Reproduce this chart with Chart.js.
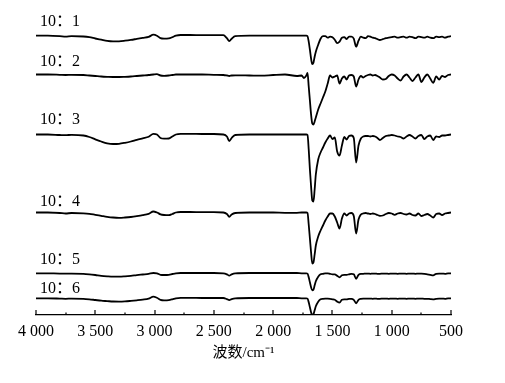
<!DOCTYPE html>
<html><head><meta charset="utf-8">
<script src="https://cdn.jsdelivr.net/npm/chart.js@4/dist/chart.umd.min.js"></script>
<style>html,body{margin:0;padding:0;background:#fff}#wrap{width:505px;height:383px;position:relative}</style>
</head><body><div id="wrap"><canvas id="c" width="505" height="383"></canvas></div>
<script>
// Wavenumbers (cm-1), shared by all spectra
const wavenumbers = [
  4000,3900,3800,3750,3700,3600,3550,3500,3450,3400,
  3350,3300,3250,3200,3150,3100,3050,3010,2980,2950,
  2920,2880,2850,2820,2780,2700,2600,2500,2420,2390,
  2370,2350,2320,2200,2100,2000,1900,1800,1760,1740,
  1720,1710,1700,1690,1680,1670,1660,1650,1640,1620,
  1600,1580,1560,1540,1520,1500,1480,1460,1440,1420,
  1400,1380,1360,1340,1320,1300,1280,1260,1240,1220,
  1200,1180,1160,1140,1120,1100,1075,1050,1025,1000,
  975,950,925,900,875,850,825,800,775,750,
  725,700,675,650,625,600,575,550,525,500
];
const seriesNames = ['10：1','10：2','10：3','10：4','10：5','10：6'];
// stacking offsets of each trace (arbitrary transmittance units)
const offsets = [279.3, 240.5, 180.5, 102.5, 41.7, 16.7];
// absorption depth below each trace's baseline
const s1 = [
  0,0,0.5,1,0.5,0.8,1.5,2.8,4,5.2,
  5.7,5.6,5,4.2,3.2,2.2,1.2,-1,0,2.5,
  3,2.7,1.5,0,-0.7,-0.7,-0.5,-0.5,-0.5,2.5,
  5.5,3,0.5,0,0,0,0,0,0,0,
  0,0.5,6,14,23,28.5,27,21,16,9,
  3,0.5,0.5,2,1,1.5,4,7.5,6,2,
  1.5,3.3,1,1,3,11,5,1,2,2.5,
  0.5,1,2,2.5,3.5,4.3,3.5,2.5,2,1.5,
  1,2,1.5,1,2,1,1.5,2.5,1,1.5,
  2,1,2,2.5,1,1.5,1,2,1,0.5
];
const s2 = [
  0,0,0.3,0.5,0.3,0.5,1,1.5,2,2.3,
  2.5,2.5,2.3,2,1.5,1,0.5,0,-0.3,1,
  1.3,1,0.5,0,0,0,0,0.3,0.5,1,
  1.5,1,0.8,1,1.2,0.5,0,1.5,1,3.5,
  1,-1.5,12,26,40,49,50,47,43,35,
  29,23,17,9,1,3,2,1,9,4,
  2,5,1,0.5,2,12,5,1.5,3,1.5,
  0.5,0,1,0.5,1.5,3,5,4.5,1.5,0,
  1,4,6,2,0,3,6.5,3,0,7.5,
  3,0,4,8.3,2,5,1.5,2.5,0.5,0
];
const s3 = [
  0,0,0.5,0.7,0.3,1,2.5,4.8,7,8.8,
  9.5,9.3,8.3,7,5.3,3.8,2.3,-0.7,0,3.5,
  4.2,4,2,0,-0.7,-0.7,-0.5,-0.5,0,2,
  6.5,3.5,0.5,0,0,0,0,0,0,0,
  0,0.5,15,35,52,66,67,55,40,25,
  18,13,8,4,1,4.5,3,17,21,11,
  2.5,5,1.5,1,3.5,28,11,4,2,1.5,
  1.5,2,1.5,2,3.5,5.5,3.5,1.5,1,0.5,
  1,2,2.5,4,2,0.5,2,4,1.5,0.5,
  4.5,2,1,5.5,2,2.5,1,1,0.5,0
];
const s4 = [
  0,0,0.5,1,0.5,0.8,1.3,2.3,3.3,4.3,
  5,5.3,5,4.5,3.7,2.7,1.3,-1,0,1.8,
  2.5,2.7,1.5,0,-0.5,-0.5,-0.3,-0.3,0,1.5,
  4.3,2,0.5,0,0,0,0.3,0.3,0,0,
  0,0.5,12,26,40,51,50,42,33,24,
  18,13,8,4,1,1,4,10,16,6,
  1,3,1,0.5,3.5,21,7,2,1,0.5,
  1,1.5,1,1.5,2.5,3.3,3,1.5,0.5,1,
  2.3,1,0.5,1.5,2,1,2.5,3,1,3.5,
  2.5,1.5,3,5,1.5,1,2.5,1,0.5,0
];
const s5 = [
  0,0,0.3,0.3,0.3,0.5,1,1.7,2.5,3,
  3.3,3.3,3,2.5,1.8,1.2,0.6,-0.3,0,1.5,
  1.7,1.5,0.7,0,-0.3,-0.3,-0.3,-0.3,0,1,
  2.3,1,0,-0.3,-0.3,-0.3,-0.3,-0.3,0,0,
  0,0.3,4,9,14,17,16.5,12,8,3.5,
  1,0.5,0,0,0.5,1,1,2.5,4,2,
  1.5,1.5,1,0.5,1,5.5,1.5,0.5,0.5,0.3,
  0.3,0.5,0.3,0.3,0.5,0.5,0.3,0.3,0.5,0.3,
  0.3,0.5,0.3,0.3,0.5,0.3,0.3,0.5,0.3,0.3,
  0.5,1,1.5,2,0.5,0.3,0.3,0.5,0,0
];
const s6 = [
  0,0,0.3,0.5,0.3,0.5,1,1.7,2.4,2.8,
  3.2,3.3,3.1,2.6,2,1.3,0.3,-1.7,-0.5,1.5,
  2,1.8,1,0,-0.5,-0.5,-0.3,-0.3,-0.3,0.8,
  1.8,0.8,0,-0.3,-0.3,-0.3,-0.3,-0.3,0,0,
  0,0.3,4,9,14,16.7,16,12,8,3.5,
  1,0.5,0.3,0.3,0.5,1,1.5,3.3,4.3,1.5,
  1,1,0.5,0.5,1.5,5,1.5,0.5,0.3,0.3,
  0.3,0.3,0.5,0.3,0.5,0.5,0.3,0.3,0.5,0.3,
  0.3,0.5,0.3,0.3,0.5,0.3,0.3,0.5,0.3,0.3,
  0.5,0.5,0.8,1,0.5,0.3,0.3,0.5,0,0
];
const depths = [s1, s2, s3, s4, s5, s6];
const majorTicks = [4000,3500,3000,2500,2000,1500,1000,500];
const minorTicks = [3750,3250,2750,2250,1750,1250,750];

// layout constants (not data)
const labelRise = [14, 13, 15, 10.6, 14, 10];
const SERIF = "'Liberation Serif','Times New Roman','Noto Sans CJK SC',serif";

const datasets = depths.map((d, i) => ({
  label: seriesNames[i],
  data: wavenumbers.map((w, j) => ({x: w, y: offsets[i] - d[j]})),
  borderColor: '#000',
  borderWidth: 1.8,
  pointRadius: 0,
  fill: false,
  cubicInterpolationMode: 'monotone'
}));

const fmt = v => v >= 1000 ? Math.floor(v / 1000) + ' ' + String(v % 1000).padStart(3, '0') : String(v);

const tickMarks = {
  id: 'tickMarks',
  afterDraw(chart) {
    const xs = chart.scales.x, ctx = chart.ctx, b = chart.chartArea.bottom;
    ctx.save();
    ctx.strokeStyle = '#000';
    ctx.lineWidth = 1.2;
    ctx.beginPath();
    majorTicks.forEach(v => { const p = Math.round(xs.getPixelForValue(v)); ctx.moveTo(p, b); ctx.lineTo(p, b - 5); });
    minorTicks.forEach(v => { const p = Math.round(xs.getPixelForValue(v)); ctx.moveTo(p, b); ctx.lineTo(p, b - 2.5); });
    ctx.stroke();
    ctx.restore();
  }
};
const seriesLabels = {
  id: 'seriesLabels',
  afterDraw(chart) {
    const xs = chart.scales.x, ys = chart.scales.y, ctx = chart.ctx;
    ctx.save();
    ctx.fillStyle = '#000';
    ctx.font = '16px ' + SERIF;
    ctx.textAlign = 'left';
    ctx.textBaseline = 'middle';
    seriesNames.forEach((n, i) => {
      ctx.fillText(n, xs.getPixelForValue(4000) + 4, ys.getPixelForValue(offsets[i] + labelRise[i]));
    });
    ctx.restore();
  }
};

new Chart(document.getElementById('c'), {
  type: 'line',
  data: {datasets},
  options: {
    responsive: false,
    animation: false,
    devicePixelRatio: 1,
    layout: {padding: {left: 36, right: 54, top: 15, bottom: 0}},
    plugins: {legend: {display: false}, tooltip: {enabled: false}},
    elements: {point: {radius: 0}},
    scales: {
      x: {
        type: 'linear', reverse: true, min: 500, max: 4000,
        afterFit(s) { s.height = 68; },
        afterBuildTicks(s) { s.ticks = majorTicks.map(v => ({value: v})); },
        grid: {display: true, drawOnChartArea: false, drawTicks: false},
        border: {display: true, color: '#000', width: 1.3},
        ticks: {padding: 7, color: '#000', font: {family: SERIF, size: 16}, callback: v => fmt(v), maxRotation: 0, autoSkip: false},
        title: {display: true, text: '波数/cm⁻¹', color: '#000', font: {family: SERIF, size: 15}, padding: {top: 0, bottom: 21}}
      },
      y: {display: false, min: 0, max: 300}
    }
  },
  plugins: [tickMarks, seriesLabels]
});
</script>
</body></html>
